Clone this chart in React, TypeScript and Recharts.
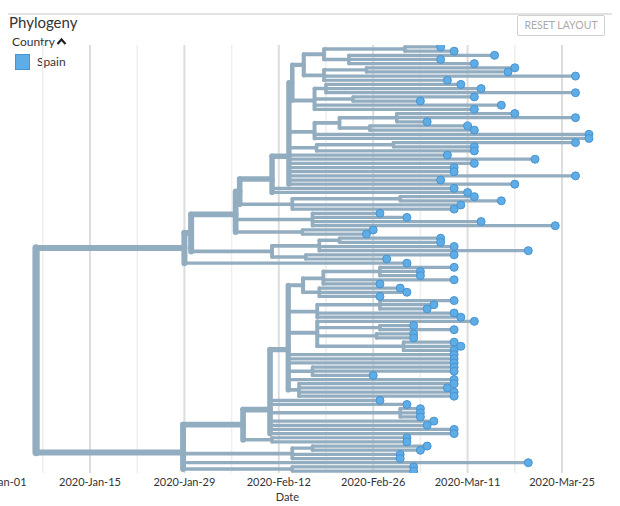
import React from "react";
import { ComposedChart, Line, Scatter, XAxis, YAxis } from "recharts";

type Node = number | Node[];

// all dates are days after 2020-01-01
// an inner node is [date, ...children], a tip is just its sample date
const rootDay = 6;

const cladeF1: Node = [44,
  [45.7, [48.7, [60.7, 66, 68], [52.4, 74, 66, 71]], [48.7, [55, 77, 76], 86, 67]],
  [47.3, [49, 69, 72, 86], [53, 71, 63], 75, 71],
];
const cladeF2: Node = [47.3, [51, [59.5, 77, 86, 64], [55.5, 70, 71]], 88, 88];
const cladeF3: Node = [47.6, [59, 86, 71], 71];
const cladeF: Node = [43.5, cladeF1, cladeF2, cladeF3, 67, 80, 71, 68, 68, 86, 66, 77];
const cladeD: Node = [36.2, [41, cladeF, 68, 70], [44, [60, 71, 75], 69, 68]];
const cladeC: Node = [35.6, cladeD, [47, 57, 61, 72, 83], [45.5, 56, 55]];
const cladeR: Node = [41, [48, [51, 66, 66], 68, 79], [46, 68, 58]];
const upperClade: Node = [28, [29, cladeC, cladeR], 61];

const cladeN: Node = [43.4,
  [45.6, [48.6, [57, 68, 63, 63], 68, 57], [48, 60, 61, 57]],
  [47.7, [57, 68, 65, 64], 68, 69],
  [47.7, 71, [57, 62, 68], [56.5, 62, 62], [60.5, 68, 69, 68]],
  68, 68, 68,
  [47, 68, 68, 56],
  68,
  [45, 68, 67, 68, 68],
];
const cladeL1a: Node = [40.7, cladeN, 57, 61, [60, 63, 63, 63], 65, 64, 68, 68];
const lowerClade: Node = [27.8, [36.7, cladeL1a, [41, 61, 61]], [44, [47, 64, 63], 60, 60], 79, [44, 62, 62]];

const tickDays = [0, 14, 28, 42, 56, 70, 84];
const tickLabels = ["2020-Jan-01", "2020-Jan-15", "2020-Jan-29", "2020-Feb-12", "2020-Feb-26", "2020-Mar-11", "2020-Mar-25"];
const minorDays = [7, 21, 35, 49, 63, 77];

const BRANCH = "#93adc0";
const TIP_FILL = "#5eade6";
const TIP_STROKE = "#4a93cf";

type Pt = { x: number; y: number };

function buildTree(root: Node) {
  const segs: { pts: Pt[]; n: number }[] = [];
  const tips: Pt[] = [];
  let row = 0;
  const walk = (node: Node, parentDay: number): { y: number; n: number } => {
    if (typeof node === "number") {
      const y = row++;
      segs.push({ pts: [{ x: parentDay, y }, { x: node, y }], n: 1 });
      tips.push({ x: node, y });
      return { y, n: 1 };
    }
    const day = node[0] as number;
    const res = node.slice(1).map((k) => walk(k, day));
    const y = res.reduce((s, r) => s + r.y, 0) / res.length;
    const n = res.reduce((s, r) => s + r.n, 0);
    segs.push({ pts: [{ x: day, y: res[0].y }, { x: day, y: res[res.length - 1].y }], n });
    if (parentDay !== day) segs.push({ pts: [{ x: parentDay, y }, { x: day, y }], n });
    return { y, n };
  };
  walk(root, rootDay);
  return { segs, tips, total: row };
}

const tree = buildTree([rootDay, upperClade, lowerClade]);
const yMin = -0.48;
const yMax = tree.total - 1 + 0.48;

const DateTick = (props: any) => {
  const { x, y, payload } = props;
  const i = tickDays.indexOf(payload.value);
  return (
    <text x={x} y={y} dy={13} textAnchor="middle" fontSize={11} fill="#333" fontFamily="Lato">
      {i >= 0 ? tickLabels[i] : ""}
    </text>
  );
};

const TipDot = (props: any) => (
  <circle cx={props.cx} cy={props.cy} r={4} fill={TIP_FILL} stroke={TIP_STROKE} strokeWidth={1} />
);

export default function App() {
  const font = "Lato, 'Open Sans', sans-serif";
  return (
    <div style={{ position: "absolute", left: 0, top: 0, width: 620, height: 506, overflow: "hidden", background: "#fff", fontFamily: font }}>
      <div style={{ position: "absolute", left: 8, top: 13, width: 604, height: 2, background: "#e2e2e2" }} />
      <div style={{ position: "absolute", left: 9, top: 13, fontSize: 15, color: "#333" }}>Phylogeny</div>
      <div
        style={{
          position: "absolute", left: 517, top: 15, width: 86, height: 19, border: "1px solid #d0d0d0",
          borderRadius: 2, fontSize: 10.5, color: "#aaa", textAlign: "center", lineHeight: "19px",
        }}
      >
        RESET LAYOUT
      </div>
      <div style={{ position: "absolute", left: 12, top: 34, fontSize: 12, color: "#333" }}>Country</div>
      <svg style={{ position: "absolute", left: 56, top: 37 }} width={11} height={9}>
        <polyline points="1.5,7 5.5,2.5 9.5,7" fill="none" stroke="#222" strokeWidth={2.2} />
      </svg>
      <div style={{ position: "absolute", left: 15, top: 54, width: 13, height: 14, background: TIP_FILL, border: `1px solid ${TIP_STROKE}` }} />
      <div style={{ position: "absolute", left: 37, top: 54, fontSize: 12, color: "#333" }}>Spain</div>

      <div style={{ position: "absolute", left: -40, top: 0 }}>
        <ComposedChart width={660} height={506} margin={{ top: 45, right: 10.8, bottom: 0, left: 35.6 }}>
          <XAxis
            type="number"
            dataKey="x"
            domain={[0, 91]}
            ticks={tickDays}
            allowDataOverflow
            axisLine={false}
            tickLine={false}
            tickSize={0}
            tickMargin={0}
            height={33}
            tick={<DateTick />}
            interval={0}
            label={{ value: "Date", position: "insideBottom", offset: 5, dx: -15, fontSize: 11, fill: "#333", fontFamily: "Lato" }}
          />
          <YAxis type="number" dataKey="y" domain={[yMin, yMax]} reversed hide allowDataOverflow />
          {minorDays.map((d) => (
            <Line key={"m" + d} data={[{ x: d, y: yMin }, { x: d, y: yMax }]} dataKey="y" stroke="#eeeeee" strokeWidth={1.5} dot={false} activeDot={false} isAnimationActive={false} />
          ))}
          {tickDays.map((d) => (
            <Line key={"g" + d} data={[{ x: d, y: yMin }, { x: d, y: yMax }]} dataKey="y" stroke="#dddddd" strokeWidth={2} dot={false} activeDot={false} isAnimationActive={false} />
          ))}
          {tree.segs.map((s, i) => (
            <Line
              key={i}
              data={s.pts}
              dataKey="y"
              stroke={BRANCH}
              strokeWidth={2.8 + 4.5 * Math.sqrt(s.n / tree.total)}
              strokeLinecap="round"
              dot={false}
              activeDot={false}
              isAnimationActive={false}
            />
          ))}
          <Scatter data={tree.tips} dataKey="y" shape={<TipDot />} isAnimationActive={false} />
        </ComposedChart>
      </div>
    </div>
  );
}
